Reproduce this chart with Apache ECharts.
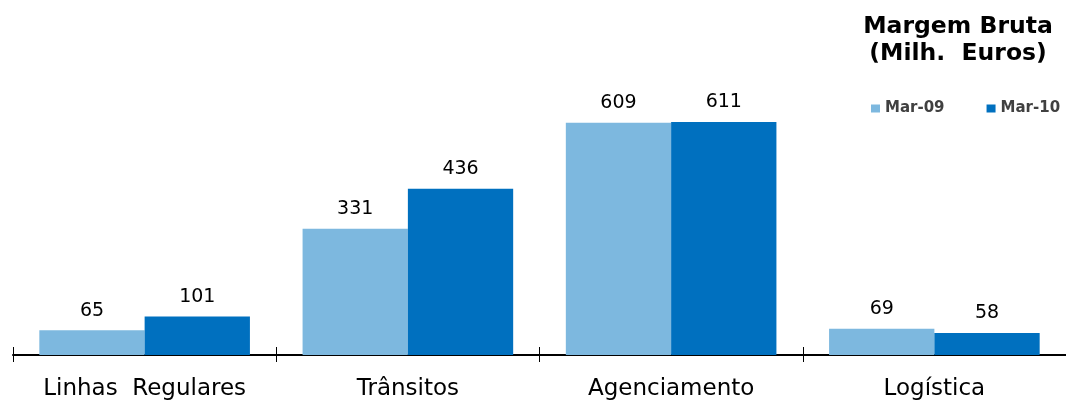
<!DOCTYPE html>
<html>
<head>
<meta charset="utf-8">
<script src="https://cdn.jsdelivr.net/npm/echarts@6/dist/echarts.min.js"></script>
<style>
  html, body { margin: 0; padding: 0; background: #fff; }
  #chart { width: 1066px; height: 401px; }
</style>
</head>
<body>
<div id="chart"></div>
<script>
// Margem Bruta (Milh. Euros)
const categories = ['Linhas  Regulares', 'Trânsitos', 'Agenciamento', 'Logística']
const seriesNames = ['Mar-09', 'Mar-10']
const mar09 = [65, 331, 609, 69]
const mar10 = [101, 436, 611, 58]

const myChart = echarts.init(document.getElementById('chart'))
const font = 'DejaVu Sans, Verdana, sans-serif'

const option = {
  animation: false,
  title: {
    text: 'Margem Bruta\n(Milh.  Euros)',
    left: 953,
    top: 8,
    textAlign: 'center',
    textStyle: {
      fontFamily: font,
      fontSize: 23.5,
      fontWeight: 'bold',
      color: '#000',
      lineHeight: 27
    }
  },
  legend: {
    data: seriesNames,
    orient: 'horizontal',
    left: 871,
    top: 101,
    width: 260,
    padding: 0,
    itemWidth: 9,
    itemHeight: 8,
    itemGap: 42,
    icon: 'rect',
    textStyle: {
      fontFamily: font,
      fontSize: 15,
      fontWeight: 'bold',
      color: '#404040'
    }
  },
  grid: {
    left: 13,
    right: -1,
    top: 50,
    bottom: 44,
    containLabel: false
  },
  xAxis: [
    {
      type: 'category',
      data: categories,
      axisLine: { lineStyle: { color: '#000', width: 2 } },
      axisTick: { show: true, inside: false, length: 7, lineStyle: { color: '#000', width: 1 } },
      axisLabel: {
        interval: 0,
        fontFamily: font,
        fontSize: 23,
        color: '#000',
        margin: 23
      }
    },
    {
      type: 'category',
      position: 'bottom',
      data: categories,
      axisLine: { show: false },
      axisTick: { show: true, inside: true, length: 8, lineStyle: { color: '#000', width: 1 } },
      axisLabel: { show: false }
    }
  ],
  yAxis: {
    type: 'value',
    min: 0,
    max: 800,
    show: false,
    splitLine: { show: false }
  },
  series: [
    {
      name: seriesNames[0],
      type: 'bar',
      data: mar09,
      barGap: '0%',
      barCategoryGap: '20%',
      itemStyle: { color: '#7db8df' },
      label: {
        show: true,
        position: 'top',
        distance: 10,
        fontFamily: font,
        fontSize: 19,
        color: '#000'
      }
    },
    {
      name: seriesNames[1],
      type: 'bar',
      data: mar10,
      barGap: '0%',
      barCategoryGap: '20%',
      itemStyle: { color: '#0070bf' },
      label: {
        show: true,
        position: 'top',
        distance: 10,
        fontFamily: font,
        fontSize: 19,
        color: '#000'
      }
    }
  ]
}
myChart.setOption(option)
</script>
</body>
</html>
